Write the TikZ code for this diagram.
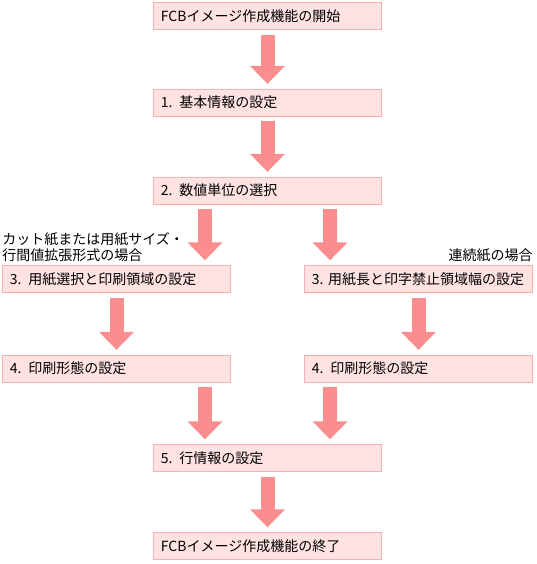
\documentclass[tikz,border=0pt]{standalone}
\usepackage{fontspec}
\setmainfont{Noto Sans CJK JP}
\usetikzlibrary{arrows.meta}
\definecolor{boxfill}{RGB}{255,226,226}
\definecolor{boxline}{RGB}{248,178,178}
\definecolor{flowpink}{RGB}{250,142,142}

\begin{document}
\begin{tikzpicture}[x=0.75pt, y=-0.75pt,
  block/.style={rectangle, draw=boxline, fill=boxfill, line width=0.75pt,
                minimum height=20.25pt, text width=166pt, inner xsep=2.5pt,
                align=left, font=\fontsize{10.5}{12}\selectfont,
                execute at begin node=\hspace*{3pt}},
  flow/.style={draw=flowpink, line width=10.5pt,
               -{Triangle[width=25.5pt,length=13.5pt]},
               shorten <=3.5pt, shorten >=3.5pt},
  note/.style={inner sep=0pt, font=\fontsize{10.5}{12}\selectfont}]
  \useasboundingbox (0,0) rectangle (536,564);
  % Main column
  \node[block] (start) at (267.5,16) {FCBイメージ作成機能の開始};
  \node[block] (info) at (267.5,102.5) {1. 基本情報の設定};
  \node[block] (unit) at (267.5,190.5) {2. 数値単位の選択};
  % Two branches
  \node[block] (paperL) at (116.5,279) {3. 用紙選択と印刷領域の設定};
  \node[block] (paperR) at (418.5,279) {3.~用紙長と印字禁止領域幅の設定};
  \node[block] (printL) at (116.5,368.5) {4. 印刷形態の設定};
  \node[block] (printR) at (418.5,368.5) {4. 印刷形態の設定};
  \node[note, anchor=south west, align=left] (noteL) at ([yshift=2pt]paperL.north west)
        {カット紙または用紙サイズ・\\行間値拡張形式の場合};
  \node[note, anchor=south east] (noteR) at ([yshift=2pt]paperR.north east) {連続紙の場合};
  % Join again
  \node[block] (line) at (267.5,458) {5. 行情報の設定};
  \node[block] (end) at (267.5,546) {FCBイメージ作成機能の終了};
  % Arrows
  \draw[flow] (start.south) -- (info.north);
  \draw[flow] (info.south) -- (unit.north);
  \draw[flow] ([xshift=-46.9pt]unit.south) -- ([xshift=-46.9pt]unit.south |- paperL.north);
  \draw[flow] ([xshift=46.9pt]unit.south) -- ([xshift=46.9pt]unit.south |- paperR.north);
  \draw[flow] (paperL.south) -- (printL.north);
  \draw[flow] (paperR.south) -- (printR.north);
  \draw[flow] ([xshift=-46.9pt]line.north |- printL.south) -- ([xshift=-46.9pt]line.north);
  \draw[flow] ([xshift=46.9pt]line.north |- printR.south) -- ([xshift=46.9pt]line.north);
  \draw[flow] (line.south) -- (end.north);
\end{tikzpicture}
\end{document}
